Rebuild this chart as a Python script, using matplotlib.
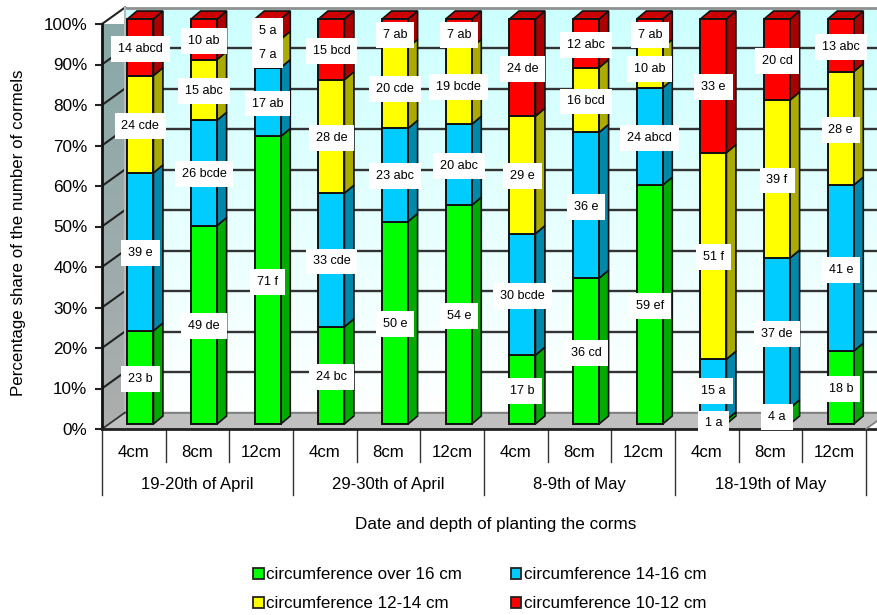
import numpy as np
import matplotlib
matplotlib.use("Agg")
import matplotlib.pyplot as plt
from matplotlib.patches import Polygon, Patch

plt.rcParams['font.family'] = ['Liberation Sans', 'DejaVu Sans']

# ---- data ----
depths = ["4cm", "8cm", "12cm"]
dates = ["19-20th of April", "29-30th of April", "8-9th of May", "18-19th of May"]
series_names = ["circumference over 16 cm", "circumference 14-16 cm",
                "circumference 12-14 cm", "circumference 10-12 cm"]
over16 = [23, 49, 71, 24, 50, 54, 17, 36, 59, 1, 4, 18]
c14_16 = [39, 26, 17, 33, 23, 20, 30, 36, 24, 15, 37, 41]
c12_14 = [24, 15, 7, 28, 20, 19, 29, 16, 10, 51, 39, 28]
c10_12 = [14, 10, 5, 15, 7, 7, 24, 12, 7, 33, 20, 13]
over16_sig = ["b", "de", "f", "bc", "e", "e", "b", "cd", "ef", "a", "a", "b"]
c14_16_sig = ["e", "bcde", "ab", "cde", "abc", "abc", "bcde", "e", "abcd", "a", "de", "e"]
c12_14_sig = ["cde", "abc", "a", "de", "cde", "bcde", "e", "bcd", "ab", "f", "f", "e"]
c10_12_sig = ["abcd", "ab", "a", "bcd", "ab", "ab", "de", "abc", "ab", "e", "cd", "abc"]
yticks = list(range(0, 101, 10))

series = [over16, c14_16, c12_14, c10_12]
sigs = [over16_sig, c14_16_sig, c12_14_sig, c10_12_sig]
front_cols = ["#00FF00", "#00CCFF", "#FFFF00", "#FF0000"]
side_cols = ["#00AA00", "#0088AA", "#AAAA00", "#AA0000"]
top_col = "#CC0000"
edge = "#111111"

# ---- layout (pixels) ----
W, H = 878, 615
fig = plt.figure(figsize=(W / 100, H / 100), dpi=100, facecolor="white")
L, R, B, T = 102, 866, 429, 24
ax = fig.add_axes([L / W, 1 - B / H, (R - L) / W, (B - T) / H])
ax.set_xlim(0, 12)
ax.set_ylim(0, 100)
ax.patch.set_visible(False)
for s in ax.spines.values():
    s.set_visible(False)

ux = (R - L) / 12      # px per category
uy = (B - T) / 100     # px per percent
depth_x, depth_y = 23 / ux, 16.5 / uy    # chart depth
shift_x, shift_y = 6.6 / ux, 5 / uy      # bars sit inside the floor
bar_w = 26 / ux
bar_dx, bar_dy = 9.5 / ux, 8 / uy        # bar depth

# back wall gradient
grad = np.linspace(0, 1, 256).reshape(-1, 1)
c_top = np.array([0.80, 1.0, 1.0])
c_bot = np.array([1.0, 1.0, 1.0])
back = (c_top * (1 - grad[..., None]) + c_bot * grad[..., None])
ax.imshow(back, extent=[depth_x, 12 + depth_x, depth_y, 100 + depth_y], aspect="auto",
          origin="upper", zorder=0, clip_on=False)

# left wall gradient
lw_top = np.array([0.53, 0.66, 0.66])
lw_bot = np.array([0.68, 0.68, 0.68])
lw = (lw_top * (1 - grad[..., None]) + lw_bot * grad[..., None])
im = ax.imshow(lw, extent=[0, depth_x, 0, 100 + depth_y], aspect="auto", origin="upper",
               zorder=0.5, clip_on=True)
wall_poly = Polygon([(0, 0), (depth_x, depth_y), (depth_x, 100 + depth_y), (0, 100)],
                    closed=True, transform=ax.transData, fc="none", ec="none")
ax.add_patch(wall_poly)
im.set_clip_path(wall_poly)
ax.set_xlim(0, 12)
ax.set_ylim(0, 100)

# floor
ax.add_patch(Polygon([(0, 0), (12, 0), (12 + depth_x, depth_y), (depth_x, depth_y)],
                     closed=True, fc="#C0C0C0", ec="#808080", lw=1, zorder=0.6, clip_on=False))

# gridlines on back and left wall
for v in yticks[1:]:
    ax.plot([depth_x, 12 + depth_x], [v + depth_y, v + depth_y],
            color="#909090" if v == 100 else "#333333", lw=2 if v == 100 else 1.7,
            zorder=1, clip_on=False, solid_capstyle="butt")
    ax.plot([0, depth_x], [v, v + depth_y], color="#222222", lw=1.5, zorder=1, clip_on=False)
ax.plot([depth_x, depth_x], [depth_y, 100 + depth_y], color="#BBBBBB", lw=1.5, zorder=1, clip_on=False)
ax.plot([depth_x, 12 + depth_x], [depth_y, depth_y], color="#808080", lw=1.2, zorder=1, clip_on=False)
ax.plot([0, depth_x], [0, depth_y], color="#333333", lw=1.2, zorder=1, clip_on=False)

# bars
xpos = np.arange(12) + 0.5 + shift_x
plot_base = np.zeros(12)
for vals, fc, sc in zip(series, front_cols, side_cols):
    vals = np.array(vals, float)
    ax.bar(xpos, vals, bar_w, bottom=plot_base + shift_y, color=fc, edgecolor=edge, linewidth=1.4,
           zorder=3, clip_on=False)
    for x, b, v in zip(xpos, plot_base + shift_y, vals):
        xr = x + bar_w / 2
        ax.add_patch(Polygon([(xr, b), (xr + bar_dx, b + bar_dy), (xr + bar_dx, b + v + bar_dy), (xr, b + v)],
                             closed=True, fc=sc, ec=edge, lw=1.2, zorder=2.5, clip_on=False))
    plot_base = plot_base + vals
for x, top in zip(xpos, plot_base + shift_y):
    xl, xr = x - bar_w / 2, x + bar_w / 2
    ax.add_patch(Polygon([(xl, top), (xr, top), (xr + bar_dx, top + bar_dy), (xl + bar_dx, top + bar_dy)],
                         closed=True, fc=top_col, ec=edge, lw=1.2, zorder=2.5, clip_on=False))

# value labels
cum = np.zeros(12)
label_dy = -1.5 / uy
for vals, sg in zip(series, sigs):
    for i, (v, s) in enumerate(zip(vals, sg)):
        ax.text(xpos[i], cum[i] + v / 2 + shift_y + label_dy, f"{v} {s}", ha="center", va="center",
                fontsize=9.1, color="black", zorder=5, clip_on=False,
                bbox=dict(boxstyle="square,pad=0.55", fc="white", ec="none"))
    cum += np.array(vals)

# axes lines
ax.plot([0, 0], [0, 100], color="#111111", lw=2, zorder=1.5, clip_on=False)
ax.plot([0, 12 + depth_x], [0, 0], color="#222222", lw=2, zorder=1.5, clip_on=False)
ax.plot([12, 12 + depth_x], [0, depth_y], color="#808080", lw=1, zorder=1.5, clip_on=False)

# y axis
ax.set_yticks(yticks)
ax.set_yticklabels([f"{v}%" for v in yticks], fontsize=12.3)
ax.tick_params(axis="y", length=5, width=1.5, color="#222222", pad=5.5)

# x axis (two levels)
ax.set_xticks(np.arange(12) + 0.5)
ax.set_xticklabels(depths * 4, fontsize=12.1)
ax.tick_params(axis="x", length=0, pad=11.5)
lvl1 = -33 / uy
lvl2 = -66 / uy
for i in range(13):
    lo = lvl2 if i % 3 == 0 else lvl1
    ax.plot([i, i], [0, lo], color="#333333", lw=1, clip_on=False, zorder=1)
for g, name in enumerate(dates):
    ax.text(g * 3 + 1.5, -55.5 / uy, name, ha="center", va="center", fontsize=12, clip_on=False)

fig.text(19 / W, 1 - 233 / H, "Percentage share of the number of cormels", rotation=90,
         ha="center", va="center", fontsize=12.2)
fig.text(496 / W, 1 - 524 / H, "Date and depth of planting the corms",
         ha="center", va="center", fontsize=12.3)

handles = [Patch(fc=c, ec="#222222", lw=1.3) for c in [front_cols[0], front_cols[2], front_cols[1], front_cols[3]]]
labels = [series_names[0], series_names[2], series_names[1], series_names[3]]
fig.legend(handles, labels, ncol=2, frameon=False, fontsize=12.25,
           loc="upper left", bbox_to_anchor=(248 / W, 1 - 562 / H), borderaxespad=0, borderpad=0.3,
           handlelength=0.62, handleheight=0.62, handletextpad=0.16, columnspacing=2.85, labelspacing=0.82)

fig.savefig("out.png", dpi=100, facecolor="white")
